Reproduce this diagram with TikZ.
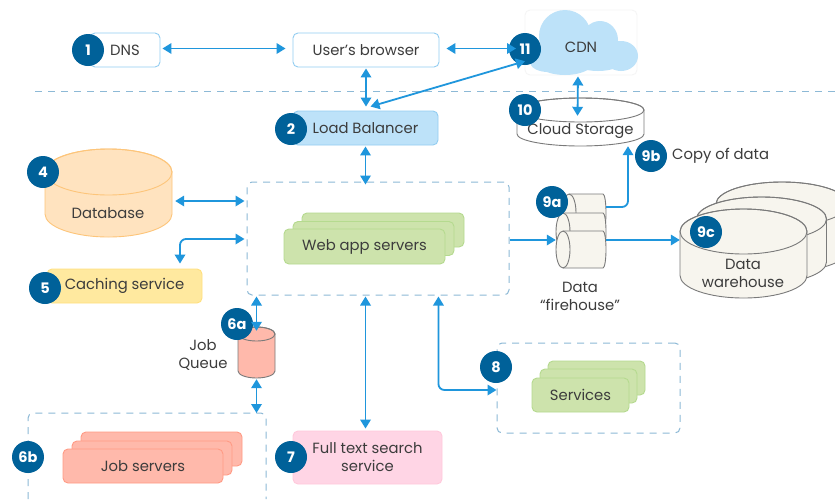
\documentclass[tikz,border=0pt]{standalone}
\usepackage{fontspec}
\setmainfont{Poppins}
\usetikzlibrary{arrows.meta,calc}
\definecolor{flow}{HTML}{1F96DC}
\definecolor{dashc}{HTML}{8DB9D6}
\definecolor{badgec}{HTML}{006199}
\definecolor{ink}{HTML}{3C3C3C}
\definecolor{cyl}{HTML}{7A7A7A}
\definecolor{cream}{HTML}{F7F5EE}
\definecolor{cloudc}{HTML}{BDE2F9}
\definecolor{clouddraw}{HTML}{93CDF1}
\definecolor{greenf}{HTML}{CDE3AC}
\definecolor{greend}{HTML}{B5DA8F}
\definecolor{redf}{HTML}{FFB9AB}
\definecolor{redd}{HTML}{FF9B85}
\definecolor{dbf}{HTML}{FFE3BF}
\definecolor{dbd}{HTML}{FDC57A}
\definecolor{yelf}{HTML}{FFE99F}
\definecolor{yeld}{HTML}{FFE07F}
\definecolor{pinkf}{HTML}{FFD5E5}
\definecolor{pinkd}{HTML}{FFC9DC}
\tikzset{
  every node/.style={text=ink,font=\fontsize{14.8}{18}\selectfont,inner sep=0pt,align=center},
  conn/.style={draw=flow,line width=1.8pt,{Triangle[length=9pt,width=10.5pt]}-{Triangle[length=9pt,width=10.5pt]}},
  oneway/.style={draw=flow,line width=1.8pt,-{Triangle[length=9pt,width=10.5pt]}},
  area/.style={draw=dashc,line width=1pt,dash pattern=on 7pt off 6pt,rounded corners=5pt},
  box/.style={rounded corners=5pt,line width=.9pt},
  greenbox/.style={box,fill=greenf,draw=greend},
  redbox/.style={box,fill=redf,draw=redd},
  badge/.style={circle,fill=badgec,minimum size=32pt,text=white,font=\fontsize{14.5}{14}\selectfont\bfseries}
}
% vertical cylinder: cx, top y, rx, ry, bottom y, fill, draw
\newcommand{\vcyl}[7]{%
  \draw[fill=#6,draw=#7,line width=.9pt] ({#1-#3},{#2+#4}) -- ({#1-#3},{#5-#4})
    arc[start angle=180,end angle=360,x radius=#3pt,y radius=#4pt] -- ({#1+#3},{#2+#4})
    arc[start angle=0,end angle=180,x radius=#3pt,y radius=#4pt] -- cycle;
  \draw[draw=#7,line width=.9pt] (#1,{#2+#4}) ellipse[x radius=#3pt,y radius=#4pt];}
% horizontal cylinder: left x, right x, top y, bottom y
\newcommand{\hcyl}[4]{%
  \draw[fill=cream,draw=cyl,line width=.9pt] ({#1+7},#3) -- ({#2-3},#3)
    arc[start angle=90,end angle=-90,x radius=3pt,y radius={(#4-#3)/2*1pt}] -- ({#1+7},#4)
    arc[start angle=270,end angle=90,x radius=7pt,y radius={(#4-#3)/2*1pt}] -- cycle;
  \draw[draw=cyl,line width=.9pt] ({#1+7},#4)
    arc[start angle=-90,end angle=90,x radius=7pt,y radius={(#4-#3)/2*1pt}];}
\begin{document}
\begin{tikzpicture}[x=1pt,y=-1pt]
\useasboundingbox (0,0) rectangle (835,499);
\fill[white] (0,0) rectangle (835,499);
% separator
\coordinate (sepL) at (35,91.5);
\coordinate (sepR) at (835,91.5);
\draw[draw=dashc,line width=1pt,dash pattern=on 7pt off 6pt] (sepL) -- (sepR);
% areas
\node[area,minimum width=262pt,minimum height=113pt] (web) at (378,238.5) {};
\node[area,minimum width=183pt,minimum height=90pt] (svcarea) at (588.5,388) {};
\draw[area] (28,499) -- (28,413) -- (266,413) -- (266,499);
\coordinate (jobarea) at (256.5,413);
% top row
\node[box,draw=clouddraw,fill=white,minimum width=70pt,minimum height=34pt] (dns) at (125,50) {DNS};
\node[box,draw=clouddraw,fill=white,minimum width=146pt,minimum height=34pt] (browser) at (366,50) {User’s browser};
% cloud
\node[box,draw=black!4,minimum width=112pt,minimum height=65pt] (cdn) at (581,42.5) {};
\fill[cloudc] (565,36) ellipse[x radius=26pt,y radius=26pt]
  (600,40) ellipse[x radius=18pt,y radius=19pt]
  (621,56) ellipse[x radius=17pt,y radius=15pt]
  (565,58) ellipse[x radius=32pt,y radius=17pt]
  (548,62) ellipse[x radius=18pt,y radius=10pt]
  (598,60) ellipse[x radius=26pt,y radius=11pt];
\node at (581,47.5) {CDN};
% load balancer
\node[box,fill=cloudc,draw=clouddraw,minimum width=145pt,minimum height=34pt] (lb) at (365.5,128) {Load Balancer};
% cloud storage
\vcyl{580.5}{98}{63.5}{12}{146}{white}{cyl}
\node[minimum width=127pt,minimum height=48pt] (store) at (580.5,122) {};
\node at (580.5,131.5) {Cloud Storage};
% database
\vcyl{108.5}{149}{63.5}{23}{237}{dbf}{dbd}
\node[minimum width=127pt,minimum height=88pt] (db) at (108.5,193) {};
\node at (108,213) {Database};
% caching
\node[box,fill=yelf,draw=yeld,minimum width=155pt,minimum height=34pt] (cache) at (124.5,286) {Caching service};
% web app servers
\node[greenbox,minimum width=162pt,minimum height=34pt] (webback) at (383,230) {};
\node[greenbox,minimum width=161pt,minimum height=34pt] (webmid) at (373.5,238.5) {};
\node[greenbox,minimum width=161pt,minimum height=35pt] (webapps) at (364.5,246.5) {Web app servers};
% job queue
\vcyl{256.5}{327}{18.5}{7}{378}{redf}{cyl}
\node[minimum width=37pt,minimum height=51pt] (queue) at (256.5,352.5) {};
\node (jobq) at (203,355) {Job\\Queue};
% job servers
\node[redbox,minimum width=161pt,minimum height=34pt] (jobback) at (161.5,449) {};
\node[redbox,minimum width=160pt,minimum height=34pt] (jobmid) at (152,458) {};
\node[redbox,minimum width=160pt,minimum height=34pt] (jobs) at (143,466) {Job servers};
% full text search
\node[box,fill=pinkf,draw=pinkd,minimum width=149pt,minimum height=53pt] (fts) at (367.5,457.5) {Full text search\\service};
% services
\node[greenbox,minimum width=97pt,minimum height=34pt] (svcback) at (596.5,378) {};
\node[greenbox,minimum width=97pt,minimum height=34pt] (svcmid) at (588.5,386) {};
\node[greenbox,minimum width=97pt,minimum height=34pt] (svc) at (580.5,395) {Services};
% firehose
\hcyl{562}{606}{194}{231}
\hcyl{556}{606}{213}{250}
\hcyl{556}{606}{231}{268}
\node[minimum width=50pt,minimum height=37pt] (fhtop) at (581,212.5) {};
\node[minimum width=50pt,minimum height=37pt] (fh) at (581,249.5) {};
\node (fhlabel) at (580,296) {Data\\“firehouse”};
% warehouse
\vcyl{782}{182}{66}{22}{272}{cream}{cyl}
\vcyl{761.5}{197}{65}{22}{284}{cream}{cyl}
\vcyl{743.5}{209}{63.5}{22.5}{298}{cream}{cyl}
\node[minimum width=127pt,minimum height=89pt] (wh) at (743.5,253.5) {};
\node (whlabel) at (743,273) {Data\\warehouse};
% copy of data
\node[anchor=west] (copy) at (672,156) {Copy of data};
% badges
\node[badge] (b1) at (88,50) {1};
\node[badge] (b2) at (291,129) {2};
\node[badge] (b4) at (43,172) {4};
\node[badge] (b5) at (45,288) {5};
\node[badge] (b6a) at (237,324) {6a};
\node[badge] (b6b) at (28,457) {6b};
\node[badge] (b7) at (291,457) {7};
\node[badge] (b8) at (496,367) {8};
\node[badge] (b9a) at (552,202) {9a};
\node[badge] (b9b) at (651,156) {9b};
\node[badge] (b9c) at (706,232) {9c};
\node[badge] (b10) at (525,110) {10};
\node[badge] (b11) at (525,49) {11};
% connectors
\draw[conn,shorten <=2pt,shorten >=7pt] ([yshift=1.5pt]dns.east) -- ([yshift=1.5pt]browser.west);
\draw[conn,shorten <=7pt,shorten >=9pt] ([yshift=1.5pt]browser.east) -- ([yshift=0.5pt]b11.center);
\draw[conn,shorten <=1pt,shorten >=4pt] (browser.south) -- (browser.south |- lb.north);
\draw[conn] ([xshift=5pt,yshift=4pt]lb.north) -- ([yshift=4pt]b11.south);
\draw[conn,shorten <=1pt,shorten >=-3pt] (lb.south) -- (lb.south |- web.north);
\draw[conn,shorten <=3pt,shorten >=2pt] ([yshift=-8pt]db.east) -- ([yshift=-8pt]db.east -| web.west);
\draw[conn,rounded corners=6pt,shorten <=5pt,shorten >=2pt] ([xshift=55.5pt]cache.north) |- ([yshift=-0.5pt]web.west);
\draw[conn,shorten <=1pt,shorten >=-4pt] (queue.north |- web.south) -- (queue.north);
\draw[conn,shorten <=1pt] (queue.south) -- (jobarea);
\draw[conn,shorten <=1pt,shorten >=2pt] (lb.south |- web.south) -- (lb.south |- fts.north);
\draw[conn,rounded corners=6pt,shorten <=1pt] (lb.east |- web.south) |- ([yshift=-2pt]svcarea.west);
\draw[oneway] ([yshift=9.5pt]web.east |- fh.west) -- ([yshift=9.5pt]fh.west);
\draw[oneway] ([yshift=9.5pt]fh.east) -- ([yshift=9.5pt]fh.east -| wh.west);
\draw[oneway,rounded corners=6pt] ([yshift=5.5pt]fhtop.east) -| ([xshift=47.5pt]store.south);
\draw[conn,shorten <=1pt] ([xshift=-3pt]cdn.south) -- ([xshift=-3pt,yshift=-18pt]store.north);
\end{tikzpicture}
\end{document}
